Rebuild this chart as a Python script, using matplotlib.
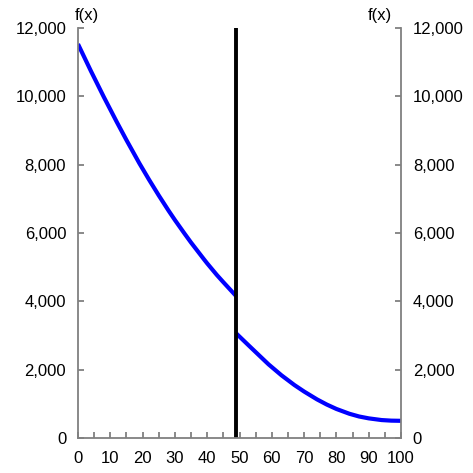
import matplotlib.pyplot as plt
from matplotlib.ticker import MultipleLocator, FuncFormatter

plt.rcParams["font.family"] = ["Liberation Sans", "DejaVu Sans"]

# curve before the break
x_left = [0, 4, 8, 12, 15, 19, 22, 25, 28, 30, 33, 35, 39, 40, 43, 45, 49]
y_left = [11530, 10740, 9980, 9250, 8720, 8040, 7560, 7100, 6660, 6380,
          5980, 5720, 5230, 5110, 4770, 4560, 4150]

# curve after the break
x_right = [49, 50, 53, 55, 59, 60, 63, 67, 70, 74, 77, 80, 84, 87, 90, 94, 97, 100]
y_right = [3060, 2968, 2695, 2515, 2155, 2075, 1835, 1550, 1360, 1130,
           980, 850, 710, 630, 575, 525, 508, 503]

break_x = 49

fig = plt.figure(figsize=(4.73, 4.73), dpi=100)
ax = fig.add_axes([78 / 473, 35 / 473, 323 / 473, 410 / 473])

ax.plot(x_left, y_left, color="#0000ff", lw=3, solid_capstyle="butt")
ax.plot(x_right, y_right, color="#0000ff", lw=3, solid_capstyle="butt")
ax.axvline(break_x, color="black", lw=2.8)

ax.set_xlim(0, 100)
ax.set_ylim(0, 12000)

grey = "#808080"
for side in ["left", "right", "bottom"]:
    ax.spines[side].set_color(grey)
    ax.spines[side].set_linewidth(1.3)
ax.spines["top"].set_visible(False)

fmt = FuncFormatter(lambda v, p: f"{int(v):,}")
ax.xaxis.set_major_locator(MultipleLocator(10))
ax.xaxis.set_minor_locator(MultipleLocator(5))
ax.yaxis.set_major_locator(MultipleLocator(2000))
ax.yaxis.set_major_formatter(fmt)

ax.tick_params(axis="x", which="both", direction="in", length=4, width=1.3,
               color=grey, labelsize=12, pad=9.5)
ax.tick_params(axis="y", direction="in", length=4, width=1.3, color=grey,
               labelsize=12, pad=8.5, left=True, right=True,
               labelleft=True, labelright=True)

fig.text(75 / 473, 1 - 20 / 473, "f(x)", fontsize=12, ha="left", va="baseline")
fig.text(368 / 473, 1 - 20 / 473, "f(x)", fontsize=12, ha="left", va="baseline")

fig.savefig("out.png", dpi=100)
